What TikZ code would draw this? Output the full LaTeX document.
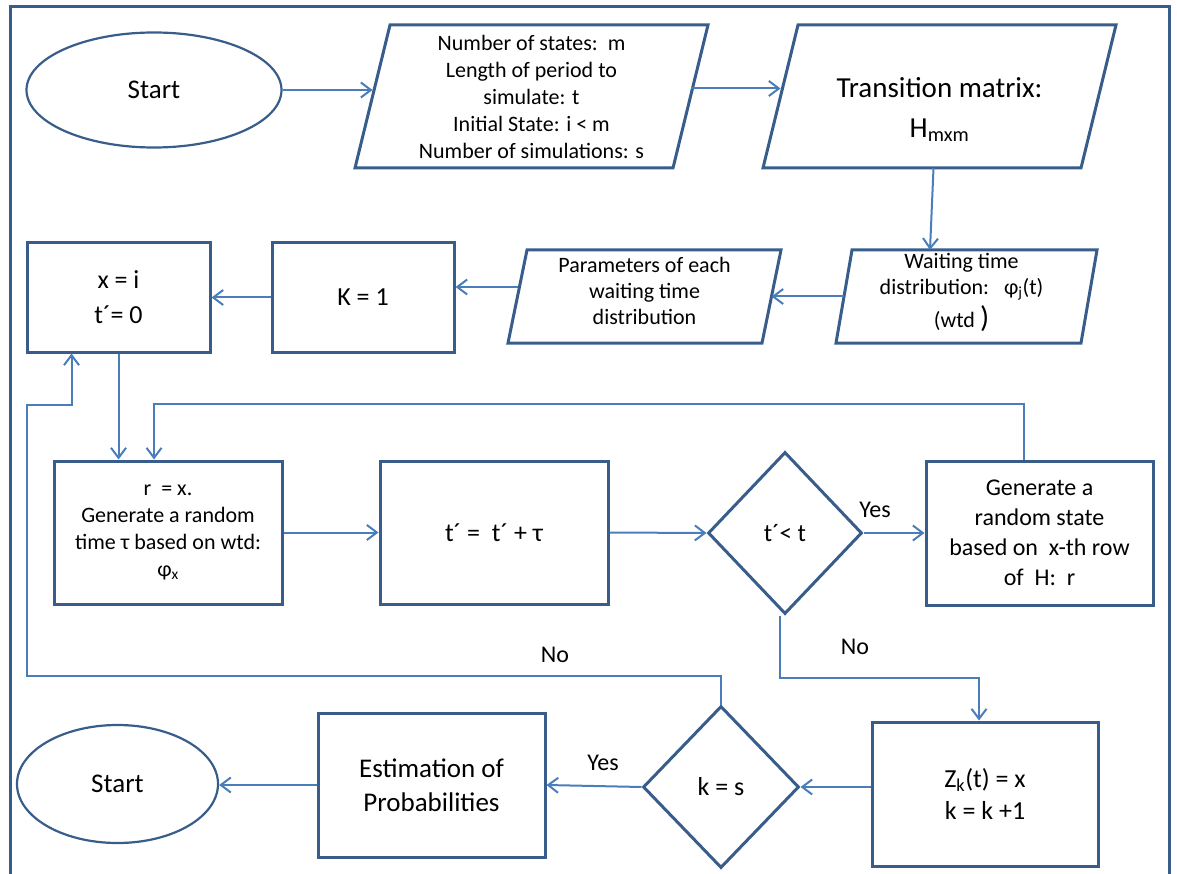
\documentclass[tikz,border=0pt]{standalone}
\usepackage{fontspec}
\setmainfont{Carlito}
\usetikzlibrary{shapes.geometric,arrows.meta,calc}
\definecolor{boxc}{RGB}{56,93,138}
\definecolor{linec}{RGB}{74,126,187}
\newcommand\fsz[2]{\fontsize{#1}{#2}\selectfont}
% outline of a parallelogram around an (invisible) rectangular node
\newcommand\drawpara[2]{\draw[paraline] ([xshift=-#2]#1.south west) -- ([xshift=#2]#1.north west) -- ([xshift=#2]#1.north east) -- ([xshift=-#2]#1.south east) -- cycle;}
\tikzset{
  box/.style={draw=boxc, line width=3pt, rectangle, align=center, inner sep=2pt},
  term/.style={draw=boxc, line width=2.2pt, ellipse, inner sep=0pt, font=\fsz{27}{32}},
  decision/.style={draw=boxc, line width=3pt, diamond, inner sep=0pt, align=center},
  paranode/.style={rectangle, outer sep=0pt, inner sep=0pt, align=center},
  paratext/.style={align=center, inner sep=0pt},
  paraline/.style={draw=boxc, line width=3pt, line join=miter},
  flow/.style={draw=linec, line width=2pt, -{Straight Barb[length=10pt,width=15pt,line width=2pt]}},
  lbl/.style={font=\fsz{24}{28}, inner sep=0pt},
}
\begin{document}
\begin{tikzpicture}[x=1pt,y=-1pt]
\useasboundingbox (0,0) rectangle (1177,874);
% outer frame
\draw[boxc, line width=3pt] (10,874) -- (10,7) -- (1169,7) -- (1169,874);

% ---- first row
\node[term, minimum width=255pt, minimum height=115pt] (start1) at (154,90) {Start};
\node[paranode, minimum width=318pt, minimum height=143pt, font=\fsz{22}{27}] (inp) at (531.5,96.5)
  {Number of states:\ \ m\\Length of period to\\simulate: t\\Initial State: i < m\\Number of simulations: s};
\drawpara{inp}{17.5pt}
\node[paranode, minimum width=318pt, minimum height=143pt] (trans) at (939.5,96.5) {};
\drawpara{trans}{17.5pt}
\node[paratext, font=\fsz{29}{34}] (transtxt) at ([yshift=-13pt]trans.center)
  {Transition matrix:\\[6pt]H\textsubscript{mxm}};

% ---- second row
\node[paranode, minimum width=245pt, minimum height=93pt] (wait) at (966.5,296.5) {};
\drawpara{wait}{8pt}
\node[paratext, font=\fsz{22}{27}] (waittxt) at ([xshift=-5pt,yshift=4pt]wait.center)
  {Waiting time\\[-1pt]distribution:\ \ \ φ\textsubscript{j}(t)\\[4pt](wtd {\fsz{30}{30})}};
\node[paranode, minimum width=254pt, minimum height=93pt] (param) at (644.5,296.5) {};
\drawpara{param}{9.5pt}
\node[paratext, font=\fsz{22}{26}] (paramtxt) at ([yshift=6pt]param.center)
  {Parameters of each\\waiting time\\distribution};
\node[box, minimum width=182pt, minimum height=109pt, font=\fsz{26}{32}] (k1) at (363,297.5) {K = 1};
\node[box, minimum width=183pt, minimum height=109pt, font=\fsz{26}{35}] (xi) at (118.5,297.5) {x = i\\t´= 0};

% ---- third row
\node[box, minimum width=228pt, minimum height=143pt, font=\fsz{22}{27}] (r) at (168,532.5)
  {r\ \ = x.\\Generate a random\\time τ based on wtd:\\φ\textsubscript{x}};
\node[box, minimum width=228pt, minimum height=143pt, font=\fsz{26}{32}] (tt) at (494,532.5) {t´ =\ \ t´ + τ};
\node[decision, minimum width=154pt, minimum height=162pt, font=\fsz{25}{30}] (d1) at (785,533) {t´< t};
\node[box, minimum width=227pt, minimum height=144pt, font=\fsz{24}{30}] (gen) at (1039.5,533)
  {Generate a\\random state\\based on\ \ x-th row\\of\ \ H:\ \ r};

% ---- fourth row
\node[box, minimum width=226pt, minimum height=144pt, font=\fsz{26}{32}] (zk) at (985,794)
  {Z\textsubscript{k}(t) = x\\k = k +1};
\node[decision, minimum width=156pt, minimum height=162pt, font=\fsz{26}{30}] (d2) at (721,787) {k = s};
\node[box, minimum width=227pt, minimum height=144pt, font=\fsz{27}{34}] (est) at (431.5,785)
  {Estimation of\\Probabilities};
\node[term, minimum width=201pt, minimum height=118pt] (start2) at (117.5,784) {Start};

% ---- connectors
\draw[flow] (start1.east) -- (inp.west |- start1.east);
\draw[flow] ([yshift=8pt]inp.east) -- ([yshift=8pt]trans.west);
\draw[flow] ([xshift=-6pt]trans.south) -- ([xshift=-36.5pt]wait.north);
\draw[flow] (wait.west) -- (param.east);
\coordinate (pk) at ([yshift=9.5pt]param.west);
\draw[flow] (pk) -- (k1.east |- pk);
\draw[flow] (k1.west) -- (xi.east);
\draw[flow] (xi.south) -- (xi.south |- r.north);
\draw[flow] (r.east) -- (tt.west);
\draw[flow] (tt.east) -- (d1.west);
\draw[flow] (d1.east) -- (gen.west);
\draw[flow] ([xshift=-16pt]gen.north) -- ++(0,-56) -| ([xshift=-14pt]r.north);
\draw[flow] ([xshift=-5pt]d1.south) -- ++(0,62) -| ([xshift=-6pt]zk.north);
\draw[flow] (zk.west |- d2.east) -- (d2.east);
\draw[flow] (d2.west) -- (est.east);
\draw[flow] (est.west) -- (start2.east |- est.west);
\coordinate (noleft) at (27,405);
\draw[flow] (d2.north) -- ++(0,-29) -| (noleft) -| ([xshift=-47pt]xi.south);

% ---- branch labels
\node[lbl] (yes1) at (875,510) {Yes};
\node[lbl] (no1) at (855,647) {No};
\node[lbl] (no2) at (555,655) {No};
\node[lbl] (yes2) at (603,763) {Yes};
\end{tikzpicture}
\end{document}
